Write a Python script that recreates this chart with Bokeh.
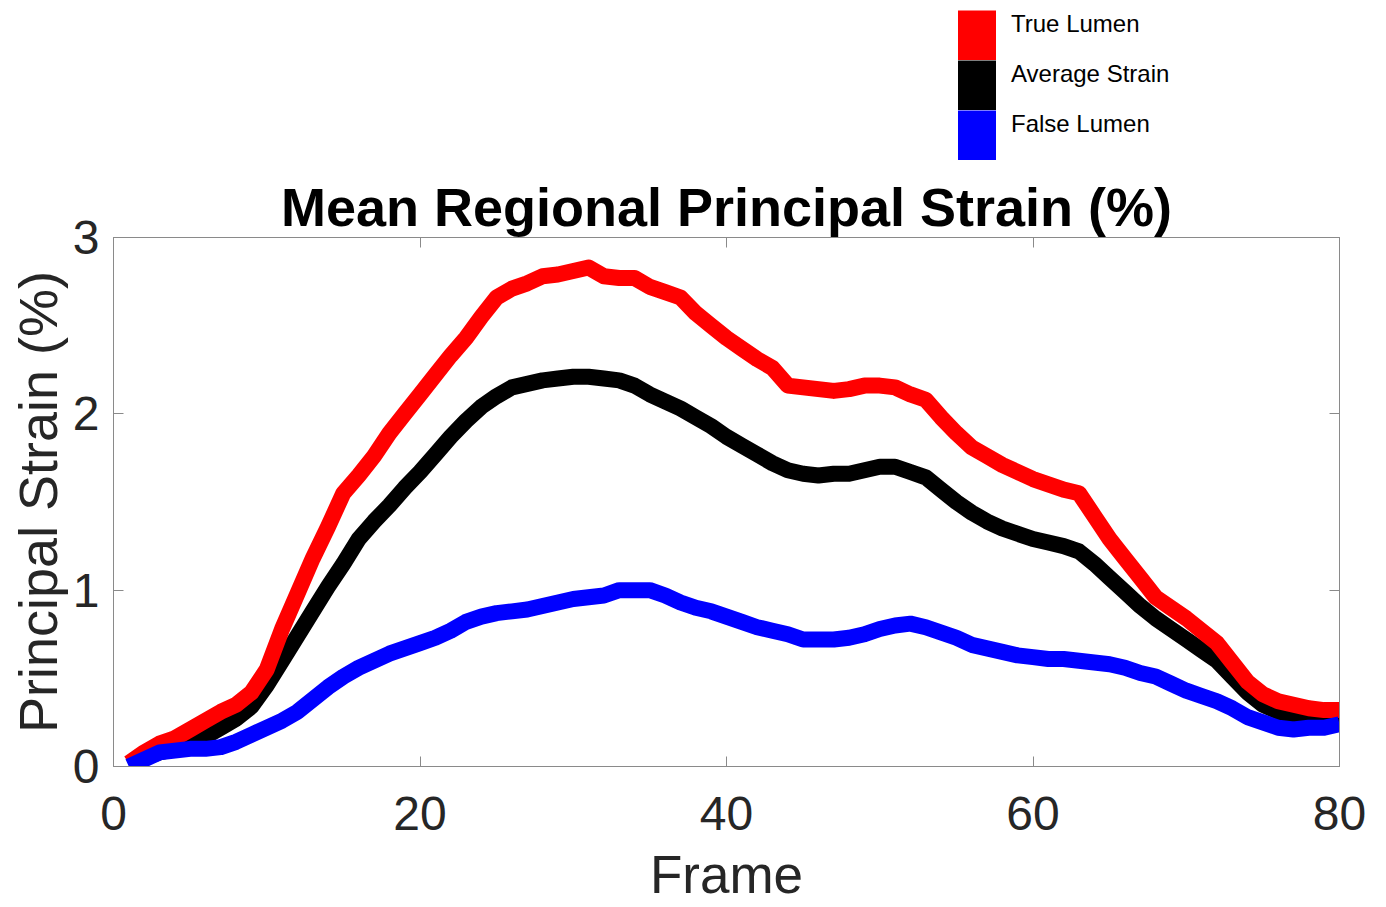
from bokeh.plotting import figure
from bokeh.layouts import column
from bokeh.models import (ColumnDataSource, Range1d, LinearAxis, FixedTicker,
                          Legend, LegendItem)
from bokeh.embed import file_html
from bokeh.resources import INLINE

frames = list(range(1, 81))

true_lumen = [0.02, 0.08, 0.13, 0.16, 0.21, 0.26, 0.31, 0.35, 0.42, 0.55,
              0.78, 0.98, 1.18, 1.36, 1.55, 1.65, 1.76, 1.89, 2.00, 2.11,
              2.22, 2.33, 2.43, 2.55, 2.66, 2.71, 2.74, 2.78, 2.79, 2.81,
              2.83, 2.78, 2.77, 2.77, 2.72, 2.69, 2.66, 2.57, 2.50, 2.43,
              2.37, 2.31, 2.26, 2.16, 2.15, 2.14, 2.13, 2.14, 2.16, 2.16,
              2.15, 2.11, 2.08, 1.98, 1.89, 1.81, 1.76, 1.71, 1.67, 1.63,
              1.60, 1.57, 1.55, 1.42, 1.29, 1.18, 1.07, 0.96, 0.90, 0.84,
              0.77, 0.70, 0.59, 0.48, 0.41, 0.37, 0.35, 0.33, 0.32, 0.32]

average_strain = [0.01, 0.05, 0.08, 0.10, 0.12, 0.17, 0.22, 0.27, 0.34, 0.46,
                  0.60, 0.74, 0.88, 1.02, 1.15, 1.29, 1.39, 1.48, 1.58, 1.67,
                  1.77, 1.87, 1.96, 2.04, 2.10, 2.15, 2.17, 2.19, 2.20, 2.21,
                  2.21, 2.20, 2.19, 2.16, 2.11, 2.07, 2.03, 1.98, 1.93, 1.87,
                  1.82, 1.77, 1.72, 1.68, 1.66, 1.65, 1.66, 1.66, 1.68, 1.70,
                  1.70, 1.67, 1.64, 1.57, 1.50, 1.44, 1.39, 1.35, 1.32, 1.29,
                  1.27, 1.25, 1.22, 1.15, 1.07, 0.99, 0.91, 0.84, 0.78, 0.72,
                  0.66, 0.60, 0.51, 0.42, 0.35, 0.31, 0.29, 0.28, 0.28, 0.28]

false_lumen = [0.00, 0.04, 0.08, 0.09, 0.10, 0.10, 0.11, 0.14, 0.18, 0.22,
               0.26, 0.31, 0.38, 0.45, 0.51, 0.56, 0.60, 0.64, 0.67, 0.70,
               0.73, 0.77, 0.82, 0.85, 0.87, 0.88, 0.89, 0.91, 0.93, 0.95,
               0.96, 0.97, 1.00, 1.00, 1.00, 0.97, 0.93, 0.90, 0.88, 0.85,
               0.82, 0.79, 0.77, 0.75, 0.72, 0.72, 0.72, 0.73, 0.75, 0.78,
               0.80, 0.81, 0.79, 0.76, 0.73, 0.69, 0.67, 0.65, 0.63, 0.62,
               0.61, 0.61, 0.60, 0.59, 0.58, 0.56, 0.53, 0.51, 0.47, 0.43,
               0.40, 0.37, 0.33, 0.28, 0.25, 0.22, 0.21, 0.22, 0.22, 0.24]

series_labels = ["True Lumen", "Average Strain", "False Lumen"]
series_colors = ["#ff0000", "black", "#0000ff"]

x_ticks = [0, 20, 40, 60, 80]
y_ticks = [0, 1, 2, 3]

FONT = "Liberation Sans"
TXT = "#262626"
AX = "#8a8a8a"
W = 1380
LEFT = 113
RIGHT = W - 1339
LEG_H = 165
NAN = float("nan")

# ---------- legend strip on top ----------
leg = figure(width=W, height=LEG_H, output_backend="svg", toolbar_location=None,
             x_range=Range1d(0, 1), y_range=Range1d(0, 1),
             x_axis_location=None, y_axis_location=None,
             min_border_left=LEFT, min_border_right=RIGHT,
             min_border_top=0, min_border_bottom=0)
leg.grid.visible = False
leg.outline_line_color = None
dummy = ColumnDataSource(dict(l=[NAN], r=[NAN], b=[NAN], t=[NAN]))

swatch_items, label_items = [], []
for lab, col in zip(series_labels, series_colors):
    sw = leg.quad(left="l", right="r", bottom="b", top="t", source=dummy,
                  fill_color=col, line_color=col, line_width=10, line_join="miter")
    swatch_items.append(LegendItem(label=" ", renderers=[sw]))
    inv = leg.quad(left="l", right="r", bottom="b", top="t", source=dummy,
                   fill_alpha=0, line_alpha=0)
    label_items.append(LegendItem(label=lab, renderers=[inv]))

common = dict(glyph_width=38, glyph_height=50, label_height=50,
              spacing=0, padding=0, margin=0, label_standoff=15,
              label_text_font=FONT, label_text_font_size="24px",
              label_text_color="black",
              border_line_color=None, background_fill_alpha=0)
legend_sw = Legend(items=swatch_items, location=(958 - LEFT, LEG_H - 160), **common)
legend_tx = Legend(items=label_items, location=(958 - LEFT, LEG_H - 160 + 11), **common)
leg.add_layout(legend_sw, "center")
leg.add_layout(legend_tx, "center")

# ---------- main plot ----------
H = 741
p = figure(width=W, height=H, output_backend="svg", toolbar_location=None,
           x_range=Range1d(0, 80), y_range=Range1d(0, 3),
           min_border_left=LEFT, min_border_right=RIGHT,
           min_border_top=237 - LEG_H, min_border_bottom=H - (767 - LEG_H),
           title="Mean Regional Principal Strain (%)")

p.title.align = "center"
p.title.text_font = FONT
p.title.text_font_size = "54px"
p.title.text_font_style = "bold"
p.title.text_color = "black"
p.title.standoff = 2

p.grid.visible = False
p.outline_line_color = AX
p.outline_line_width = 1

for ax in (p.xaxis[0], p.yaxis[0]):
    ax.axis_line_color = AX
    ax.major_tick_line_color = AX
    ax.major_tick_in = 10
    ax.major_tick_out = 0
    ax.minor_tick_line_color = None
    ax.major_label_text_font = FONT
    ax.major_label_text_font_size = "48px"
    ax.major_label_text_color = TXT
    ax.axis_label_text_font = FONT
    ax.axis_label_text_font_size = "54px"
    ax.axis_label_text_color = TXT
    ax.axis_label_text_font_style = "normal"

p.xaxis[0].axis_label_text_font_size = "53px"
p.xaxis[0].ticker = FixedTicker(ticks=x_ticks)
p.yaxis[0].ticker = FixedTicker(ticks=y_ticks)
p.xaxis[0].axis_label = "Frame"
p.yaxis[0].axis_label = "Principal Strain (%)"
p.xaxis[0].major_label_standoff = 30
p.xaxis[0].axis_label_standoff = 12
p.yaxis[0].major_label_standoff = 14
p.yaxis[0].axis_label_standoff = 2

top_ax = LinearAxis(ticker=FixedTicker(ticks=x_ticks))
right_ax = LinearAxis(ticker=FixedTicker(ticks=y_ticks))
for ax in (top_ax, right_ax):
    ax.axis_line_color = AX
    ax.major_tick_line_color = AX
    ax.major_tick_in = 10
    ax.major_tick_out = 0
    ax.minor_tick_line_color = None
    ax.major_label_text_font_size = "0px"
    ax.major_label_standoff = 0
    ax.major_label_text_alpha = 0
p.add_layout(top_ax, "above")
p.add_layout(right_ax, "right")

src = ColumnDataSource(dict(x=frames, tl=true_lumen, avg=average_strain, fl=false_lumen))
LW = 16
p.line("x", "avg", source=src, line_color=series_colors[1], line_width=LW, line_join="round")
p.line("x", "tl", source=src, line_color=series_colors[0], line_width=LW, line_join="round")
p.line("x", "fl", source=src, line_color=series_colors[2], line_width=LW, line_join="round")

layout = column(leg, p, spacing=0)
open("out.html", "w").write(file_html(layout, INLINE))
